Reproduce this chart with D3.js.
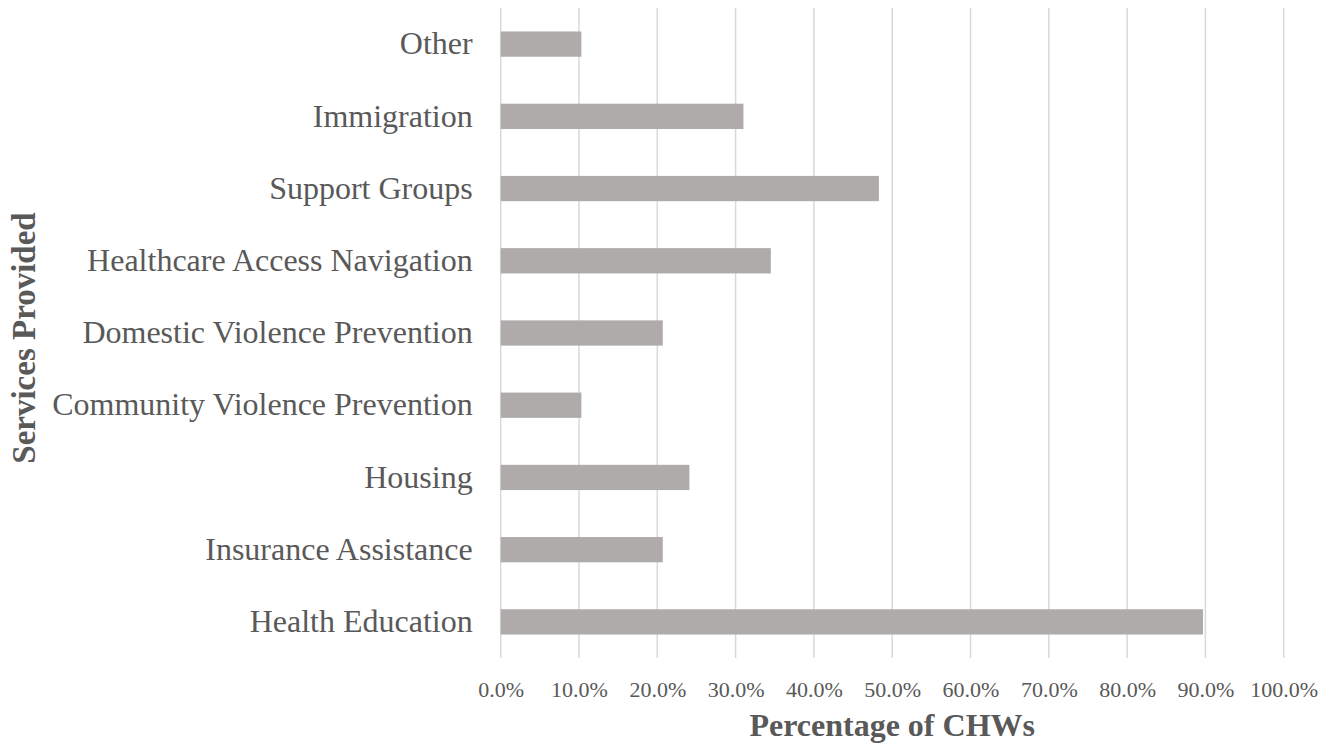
<!DOCTYPE html>
<html><head><meta charset="utf-8">
<script src="https://cdn.jsdelivr.net/npm/d3@7"></script>
<style>body{margin:0;background:#fff}svg{display:block}</style>
</head><body>
<script>
const categories = ["Other","Immigration","Support Groups","Healthcare Access Navigation","Domestic Violence Prevention","Community Violence Prevention","Housing","Insurance Assistance ","Health Education"];
const values = [10.3,31.0,48.3,34.5,20.7,10.3,24.1,20.7,89.7];
const xTicks = [0,10,20,30,40,50,60,70,80,90,100];
const xTitle = "Percentage of CHWs";
const yTitle = "Services Provided";

const W=1335,H=744;
const m={left:500.7,right:1335-1283.7,top:8,bottom:744-658};
const svg=d3.select("body").append("svg").attr("width",W).attr("height",H);
const font="'Liberation Serif','Times New Roman',serif";
const x=d3.scaleLinear().domain([0,100]).range([m.left,W-m.right]);
const y=d3.scaleBand().domain(categories).range([m.top,H-m.bottom]).paddingInner(0.65).paddingOuter(0.325);

svg.append("g").selectAll("line").data(xTicks).join("line")
 .attr("x1",d=>x(d)).attr("x2",d=>x(d)).attr("y1",m.top).attr("y2",H-m.bottom)
 .attr("stroke","#D9D9D9").attr("stroke-width",1.5);

svg.append("g").selectAll("rect").data(categories).join("rect")
 .attr("x",x(0)).attr("y",d=>y(d)).attr("height",y.bandwidth())
 .attr("width",(d,i)=>x(values[i])-x(0)).attr("fill","#AFABAB");

const xa=svg.append("g").attr("transform",`translate(0,${H-m.bottom})`)
 .call(d3.axisBottom(x).tickValues(xTicks).tickFormat(d=>d.toFixed(1)+"%").tickSize(0).tickPadding(23));
xa.select(".domain").remove();
xa.selectAll("text").attr("font-family",font).attr("font-size",22).attr("fill","#595959");

const ya=svg.append("g").attr("transform",`translate(${m.left},0)`)
 .call(d3.axisLeft(y).tickSize(0).tickPadding(28));
ya.select(".domain").remove();
ya.selectAll("text").attr("font-family",font).attr("font-size",32).attr("fill","#595959");

svg.append("text").attr("x",(x(0)+x(100))/2).attr("y",736).attr("text-anchor","middle")
 .attr("font-family",font).attr("font-size",32).attr("font-weight","bold").attr("fill","#595959").text(xTitle);
svg.append("text").attr("transform",`translate(35,338) rotate(-90)`).attr("text-anchor","middle")
 .attr("font-family",font).attr("font-size",33).attr("font-weight","bold").attr("fill","#595959").text(yTitle);
</script>
</body></html>
